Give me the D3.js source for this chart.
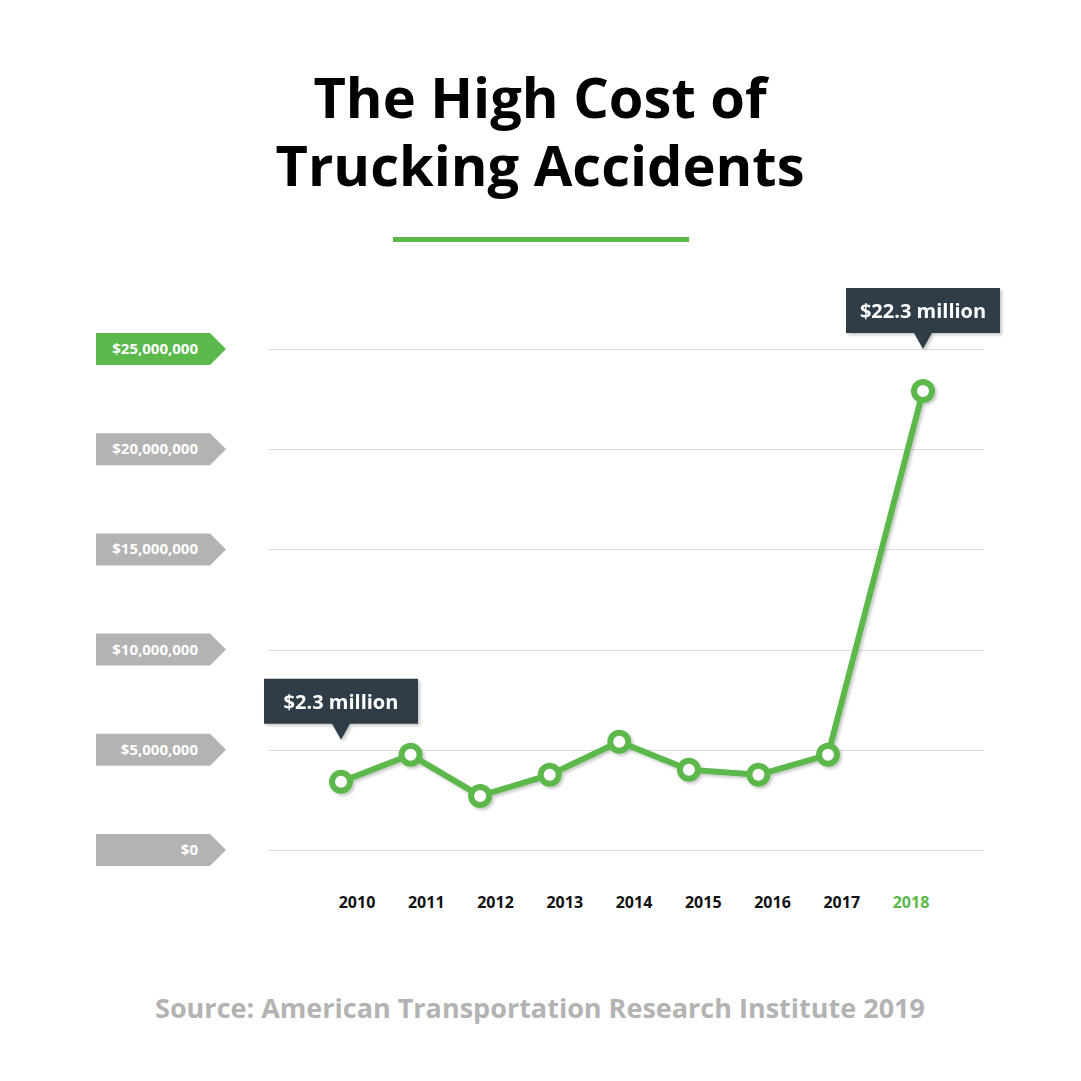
<!DOCTYPE html>
<html>
<head>
<meta charset="utf-8">
<script src="https://cdn.jsdelivr.net/npm/d3@7"></script>
<style>
  html, body { margin: 0; padding: 0; background: #fff; }
  svg { display: block; }
  text { font-family: "Open Sans", "Noto Sans", sans-serif; }
</style>
</head>
<body>
<svg id="chart" width="1081" height="1081"></svg>
<script>
// ---- data ----
const years = [2010, 2011, 2012, 2013, 2014, 2015, 2016, 2017, 2018];
const costs = [3.4, 4.75, 2.7, 3.75, 5.4, 4.0, 3.75, 4.75, 22.9]; // millions USD
const yTicks = [0, 5, 10, 15, 20, 25]; // millions
const yTickLabels = ["$0", "$5,000,000", "$10,000,000", "$15,000,000", "$20,000,000", "$25,000,000"];
const titleLines = ["The High Cost of", "Trucking Accidents"];
const callouts = [
  { year: 2010, label: "$2.3 million" },
  { year: 2018, label: "$22.3 million" }
];
const sourceText = "Source: American Transportation Research Institute 2019";

// ---- styles ----
const GREEN = "#5bb84b";
const GRAY = "#b3b3b3";
const DARK = "#2f3e46";

const svg = d3.select("#chart");
const defs = svg.append("defs");
const sh = defs.append("filter").attr("id", "shadow").attr("x", "-20%").attr("y", "-20%").attr("width", "150%").attr("height", "150%");
sh.append("feDropShadow").attr("dx", 2).attr("dy", 2).attr("stdDeviation", 1.5).attr("flood-color", "#000").attr("flood-opacity", 0.22);

// ---- scales ----
const y = d3.scaleLinear().domain([0, 25]).range([850, 349]);
const xPt = d3.scaleLinear().domain([2010, 2017, 2018]).range([341, 828, 923]);
const xLab = d3.scaleLinear().domain([2010, 2018]).range([357, 911]);

// ---- title (one text, two lines) ----
svg.append("text")
  .attr("text-anchor", "middle")
  .attr("font-size", 56).attr("font-weight", 700).attr("fill", "#000")
  .selectAll("tspan").data(titleLines).join("tspan")
  .attr("x", 540).attr("y", (d, i) => 118 + i * 68)
  .text(d => d);

svg.append("rect").attr("x", 393).attr("y", 237).attr("width", 296).attr("height", 5).attr("fill", GREEN);

// ---- grid ----
svg.append("g").selectAll("line").data(yTicks).join("line")
  .attr("x1", 268).attr("x2", 984)
  .attr("y1", d => Math.round(y(d)) + 0.5).attr("y2", d => Math.round(y(d)) + 0.5)
  .attr("stroke", "#dcdcdc").attr("stroke-width", 1);

// ---- y labels (arrow tags) ----
const yl = svg.append("g").selectAll("g").data(yTicks).join("g")
  .attr("transform", d => `translate(0,${y(d)})`);
yl.append("path")
  .attr("d", "M96,-16 H210 L226,0 L210,16 H96 Z")
  .attr("fill", d => d === 25 ? GREEN : GRAY);
yl.append("text")
  .attr("x", 198).attr("y", 5)
  .attr("text-anchor", "end")
  .attr("font-size", 15).attr("font-weight", 700).attr("fill", "#fff")
  .text((d, i) => yTickLabels[i]);

// ---- x labels ----
svg.append("g").selectAll("text").data(years).join("text")
  .attr("x", d => xLab(d)).attr("y", 908)
  .attr("text-anchor", "middle")
  .attr("font-size", 16).attr("font-weight", 700)
  .attr("fill", d => d === 2018 ? GREEN : "#111")
  .text(d => d);

// ---- line ----
const pts = years.map((yr, i) => ({ year: yr, v: costs[i] }));
const line = d3.line().x(d => xPt(d.year)).y(d => y(d.v));
const g = svg.append("g").attr("filter", "url(#shadow)");
g.append("path").datum(pts)
  .attr("d", line).attr("fill", "none")
  .attr("stroke", GREEN).attr("stroke-width", 6).attr("stroke-linejoin", "round");
g.selectAll("circle").data(pts).join("circle")
  .attr("cx", d => xPt(d.year)).attr("cy", d => y(d.v))
  .attr("r", 9).attr("fill", "#fff").attr("stroke", GREEN).attr("stroke-width", 6);

// ---- callouts ----
const cg = svg.append("g").selectAll("g").data(callouts).join("g")
  .attr("transform", d => {
    const v = costs[years.indexOf(d.year)];
    return `translate(${xPt(d.year)},${y(v) - 41})`;
  })
  .attr("filter", "url(#shadow)");
cg.append("path")
  .attr("d", "M-77,-62 H77 V-17 H9 L0,-1 L-9,-17 H-77 Z")
  .attr("fill", DARK);
cg.append("text")
  .attr("x", 0).attr("y", -32)
  .attr("text-anchor", "middle")
  .attr("font-size", 20).attr("font-weight", 700).attr("fill", "#fff")
  .text(d => d.label);

// ---- source ----
svg.append("text")
  .attr("x", 540).attr("y", 1018)
  .attr("text-anchor", "middle")
  .attr("font-size", 27).attr("font-weight", 700).attr("fill", GRAY)
  .text(sourceText);
</script>
</body>
</html>
